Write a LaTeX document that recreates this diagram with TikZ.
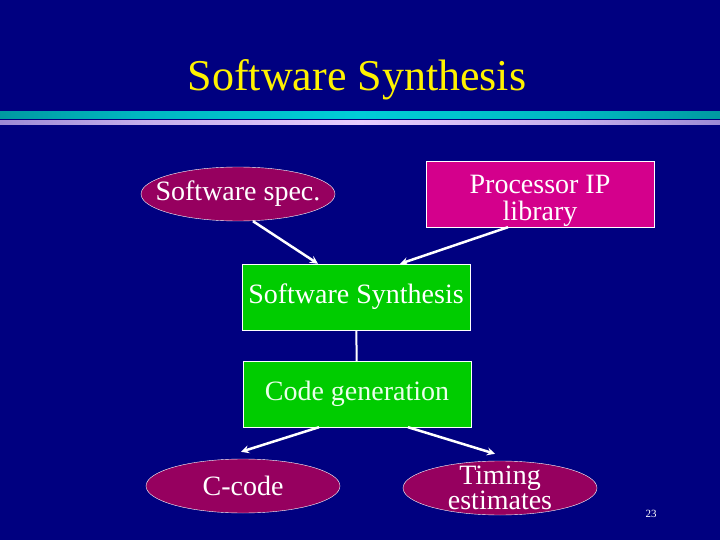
\documentclass[tikz,border=0pt]{standalone}
\usepackage{fontspec}
\setmainfont{Liberation Serif}
\usepackage{xcolor}
\usepackage{tikz}
\usetikzlibrary{shapes.geometric, arrows.meta, positioning}
\definecolor{slidenavy}{RGB}{0,0,128}
\definecolor{specpurple}{RGB}{150,0,95}
\definecolor{libmagenta}{RGB}{212,0,140}
\definecolor{synthgreen}{RGB}{0,204,0}
\definecolor{barcyan}{RGB}{0,205,215}
\definecolor{barlilac}{RGB}{232,205,255}
\pgfdeclarehorizontalshading{cyanbar}{100bp}{color(0bp)=(black); color(12bp)=(barcyan!55!black); color(35bp)=(barcyan!90!black); color(50bp)=(barcyan); color(65bp)=(barcyan!90!black); color(88bp)=(barcyan!55!black); color(100bp)=(black)}
\pgfdeclarehorizontalshading{lilacbar}{100bp}{color(0bp)=(slidenavy!50!black); color(12bp)=(barlilac!45!slidenavy); color(35bp)=(barlilac!85!slidenavy); color(50bp)=(barlilac); color(65bp)=(barlilac!85!slidenavy); color(88bp)=(barlilac!45!slidenavy); color(100bp)=(slidenavy!50!black)}

\begin{document}
\begin{tikzpicture}[x=1pt, y=-1pt,
    oval/.style={ellipse, draw=white, thin, fill=specpurple, text=white, inner xsep=-14pt, inner ysep=-6pt,
        minimum width=194pt, minimum height=54pt, font=\fontsize{28}{24}\selectfont, align=center},
    block/.style={rectangle, draw=white, thin, fill=synthgreen, text=white, inner sep=0pt,
        minimum width=228pt, minimum height=66pt, font=\fontsize{28}{27}\selectfont},
    arrow/.style={line width=2.5pt, white, ->, >=stealth}]

    % background and title bar
    \fill[slidenavy] (0,0) rectangle (720,540);
    \useasboundingbox (0,0) rectangle (720,540);
    \node[text=yellow, font=\fontsize{44}{48}\selectfont] (title) at (357,80) {Software Synthesis};
    \shade[shading=cyanbar] (0,112) rectangle (720,119);
    \shade[shading=lilacbar] (0,120.5) rectangle (720,125);

    \node[oval] (spec) at (238,194) {Software spec.};
    \node[block, fill=libmagenta, align=center] (lib) at (540,194) {\rule{0pt}{32pt}Processor IP\\library};
    \node[block] (synth) at (356,297) {Software Synthesis};
    \node[block, text=green!8!white] (code) at (357,394) {Code generation};
    \node[oval] (ccode) at (243,486) {C-code};
    \node[oval] (timing) at (500,488) {Timing\\estimates};
    \node[font=\fontsize{11}{12}\selectfont, text=white] (page) at (651,514) {23};

    \draw[arrow] ([xshift=15pt]spec.south) -- ([xshift=-38pt]synth.north);
    \draw[arrow] ([xshift=-32pt]lib.south) -- ([xshift=44pt]synth.north);
    \draw[line width=2pt, white] (synth) -- (code);
    \draw[arrow] ([xshift=-38pt]code.south) -- ([xshift=-2pt, yshift=7pt]ccode.north);
    \draw[arrow] ([xshift=51pt]code.south) -- ([xshift=-5pt, yshift=7pt]timing.north);
\end{tikzpicture}
\end{document}
